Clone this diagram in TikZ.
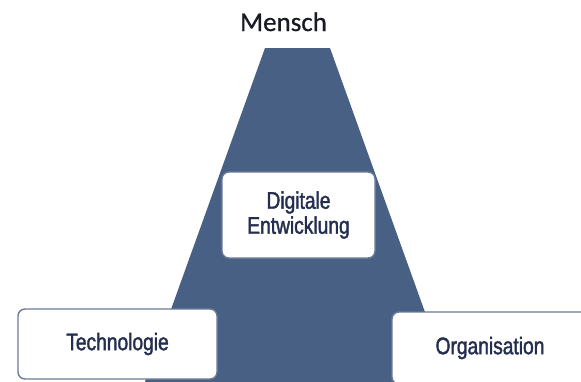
\documentclass[tikz,border=0pt]{standalone}
\usepackage{fontspec}
\newfontfamily\schmal[FakeStretch=0.8,FakeBold=1.6]{Liberation Sans}
\newfontfamily\titel[FakeBold=0.7]{Carlito}
\definecolor{schiefer}{RGB}{72,96,132}
\definecolor{rahmen}{RGB}{108,124,152}
\definecolor{schrift}{RGB}{36,46,78}
\begin{document}
\begin{tikzpicture}[x=1pt,y=-1pt,
    feld/.style={draw=rahmen, line width=1.4pt, fill=white, rounded corners=7pt,
      text=schrift, font=\schmal\fontsize{24}{25}\selectfont, align=center, inner sep=0pt}]
  \clip (0,0) rectangle (581,381);
  \fill[white] (0,0) rectangle (581,381);
  % Pyramide
  \coordinate (ol) at (265,48);
  \coordinate (or) at (330,48);
  \coordinate (ul) at (142,390);
  \coordinate (ur) at (453,390);
  \fill[schiefer] (ol) -- (or) -- (ur) -- (ul) -- cycle;
  \node[anchor=base, font=\titel\fontsize{27}{27}\selectfont, text={rgb,255:red,24;green,26;blue,36}] (mensch) at (283.5,31) {Mensch};
  \node[feld, minimum width=153pt, minimum height=86pt] (digital) at (298.5,215) {Digitale\\Entwicklung};
  \node[feld, minimum width=199pt, minimum height=70pt] (technik) at (117.5,344) {Technologie};
  \node[feld, minimum width=196pt, minimum height=72pt] (orga) at (490,348) {Organisation};
\end{tikzpicture}
\end{document}
